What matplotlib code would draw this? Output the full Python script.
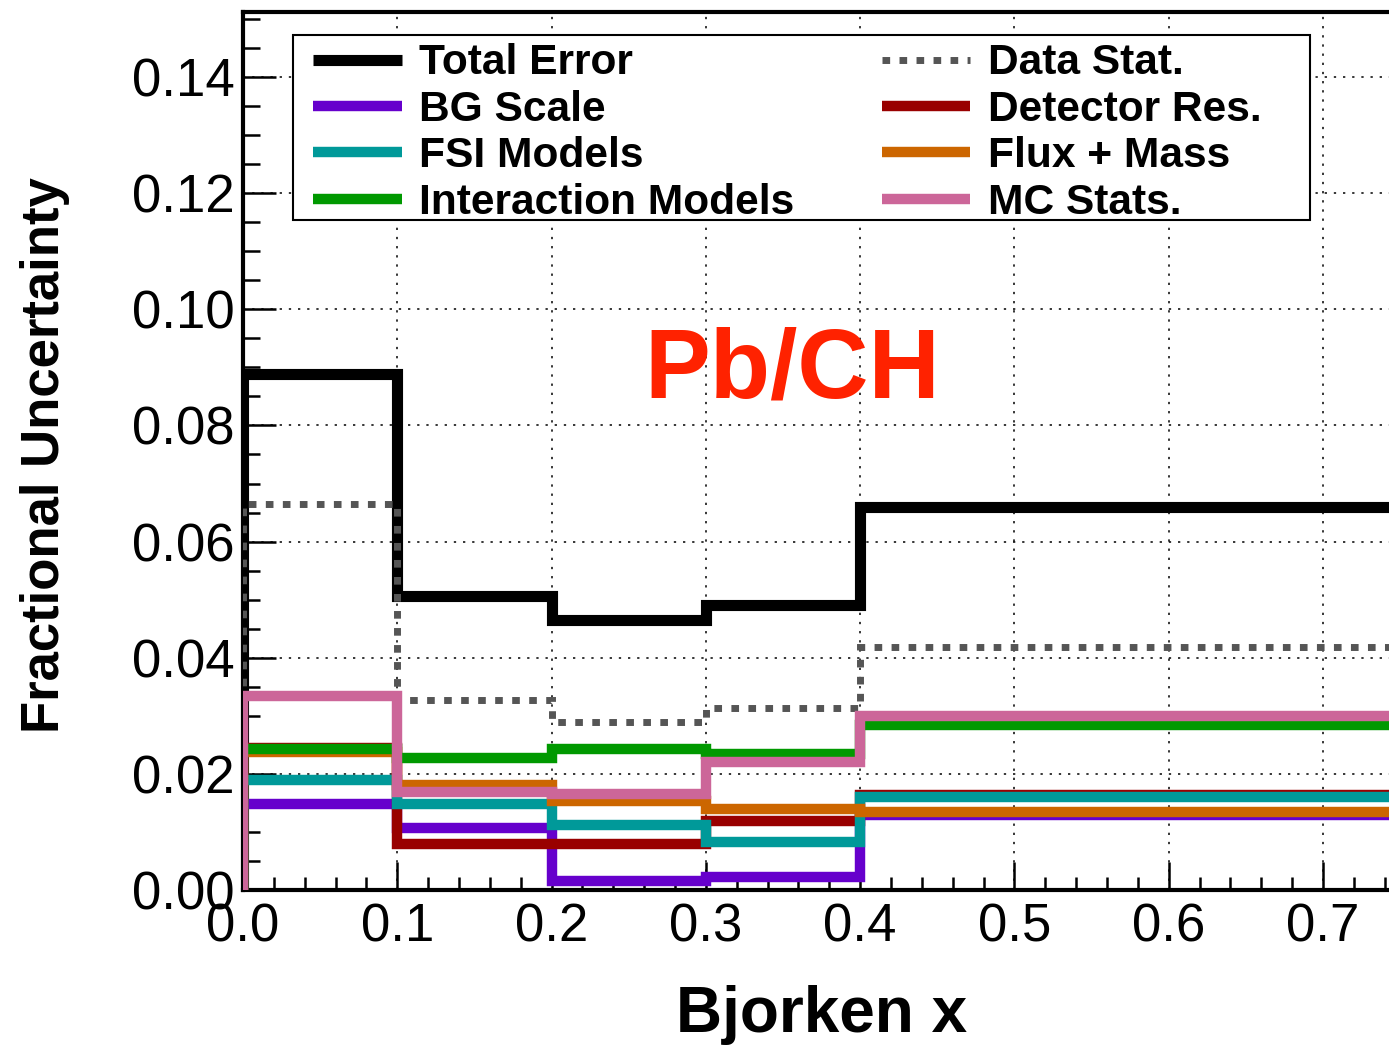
import matplotlib
matplotlib.use("Agg")
import matplotlib.pyplot as plt
from matplotlib.ticker import MultipleLocator, FormatStrFormatter
from matplotlib.lines import Line2D
from matplotlib.patches import Rectangle

plt.rcParams['font.family'] = ['Liberation Sans', 'DejaVu Sans']

# ---- data ----
bin_edges = [0.0, 0.1, 0.2, 0.3, 0.4, 0.75]
total_error = [0.0889, 0.0507, 0.0465, 0.0491, 0.0659]
data_stat = [0.0665, 0.0328, 0.0290, 0.0313, 0.0418]
bg_scale = [0.0148, 0.0106, 0.0015, 0.0023, 0.0130]
detector_res = [0.0245, 0.0079, 0.0080, 0.0119, 0.0164]
fsi_models = [0.0190, 0.0148, 0.0112, 0.0082, 0.0160]
flux_mass = [0.0238, 0.0180, 0.0154, 0.0140, 0.0135]
interaction_models = [0.0242, 0.0228, 0.0243, 0.0235, 0.0284]
mc_stats = [0.0334, 0.0168, 0.0166, 0.0221, 0.0300]

W, H = 1389, 1047
fig = plt.figure(figsize=(W / 100, H / 100), dpi=100)
ax_l, ax_r, ax_t, ax_b = 243, 1389, 12, 890
ax = fig.add_axes([ax_l / W, 1 - ax_b / H, (ax_r - ax_l) / W, (ax_b - ax_t) / H])

xmax = (ax_r - ax_l) / ((1323 - 243) / 0.7)
ax.set_xlim(0, xmax)
ax.set_ylim(0, (ax_b - ax_t) / ((890 - 77) / 0.14))

grid_kw = dict(color='black', lw=1.1, dashes=(1.5, 4.5))
ax.grid(True, which='major', **grid_kw)
ax.set_axisbelow(True)

col_lw = 7.5
dash_ls = (0, (1.1, 1.35))
h_total = ax.stairs(total_error, bin_edges, baseline=0, color='black', lw=8, label='Total Error', zorder=3)
h_data = ax.stairs(data_stat, bin_edges, baseline=0, color='#555555', lw=5, label='Data Stat.', zorder=3)
h_data.set_linestyle(dash_ls)
h_bg = ax.stairs(bg_scale, bin_edges, baseline=0, color='#6600CC', lw=col_lw, label='BG Scale', zorder=3)
h_det = ax.stairs(detector_res, bin_edges, baseline=0, color='#990000', lw=col_lw, label='Detector Res.', zorder=3)
h_fsi = ax.stairs(fsi_models, bin_edges, baseline=0, color='#009999', lw=col_lw, label='FSI Models', zorder=3)
h_flux = ax.stairs(flux_mass, bin_edges, baseline=0, color='#CC6600', lw=col_lw, label='Flux + Mass', zorder=3)
h_int = ax.stairs(interaction_models, bin_edges, baseline=0, color='#009900', lw=col_lw, label='Interaction Models', zorder=3)
h_mc = ax.stairs(mc_stats, bin_edges, baseline=0, color='#CC6699', lw=col_lw, label='MC Stats.', zorder=3)

# axes styling
for s in ['left', 'bottom', 'top']:
    ax.spines[s].set_linewidth(3)
ax.spines['right'].set_visible(False)
ax.xaxis.set_major_locator(MultipleLocator(0.1))
ax.xaxis.set_minor_locator(MultipleLocator(0.02))
ax.yaxis.set_major_locator(MultipleLocator(0.02))
ax.yaxis.set_minor_locator(MultipleLocator(0.005))
ax.xaxis.set_major_formatter(FormatStrFormatter('%.1f'))
ax.yaxis.set_major_formatter(FormatStrFormatter('%.2f'))
ax.tick_params(axis='both', which='both', direction='in', width=1.8, labelsize=38, top=False, right=False)
ax.tick_params(axis='x', which='major', length=20, pad=9)
ax.tick_params(axis='x', which='minor', length=9.5)
ax.tick_params(axis='y', which='major', length=24, pad=6)
ax.tick_params(axis='y', which='minor', length=12)

fig.text(45 / W, 1 - 455 / H, 'Fractional Uncertainty', rotation=90, ha='center', va='center',
         fontsize=38, fontweight='bold')
fig.text(822 / W, 1 - 1015 / H, 'Bjorken x', ha='center', va='center', fontsize=46, fontweight='bold')
fig.text(792 / W, 1 - 372 / H, 'Pb/CH', ha='center', va='center', fontsize=71, fontweight='bold',
         color='#FF2200')

# legend frame (opaque box)
box = Rectangle((293 / W, 1 - 220 / H), (1310 - 293) / W, (220 - 35) / H, transform=fig.transFigure,
                facecolor='white', edgecolor='black', lw=1.5, clip_on=False, zorder=5.5)
ax.add_patch(box)

handles = [h_total, h_bg, h_fsi, h_int, h_data, h_det, h_flux, h_mc]
proxies = []
for h in handles:
    ln = Line2D([], [], color=h.get_edgecolor(), lw=h.get_linewidth(), label=h.get_label(),
                solid_capstyle='butt', dash_capstyle='butt')
    if h is h_data:
        ln.set_linestyle(dash_ls)
    proxies.append(ln)
leg = ax.legend(handles=proxies, ncol=2, loc='upper left',
                bbox_to_anchor=(313 / W, 1 - 43.5 / H), bbox_transform=fig.transFigure,
                prop={'weight': 'bold', 'size': 30.6}, frameon=False,
                handlelength=2.09, handletextpad=0.41,
                columnspacing=2.05, labelspacing=0.15, borderpad=0, borderaxespad=0)
leg.set_zorder(6)

fig.savefig('out.png', dpi=100)
